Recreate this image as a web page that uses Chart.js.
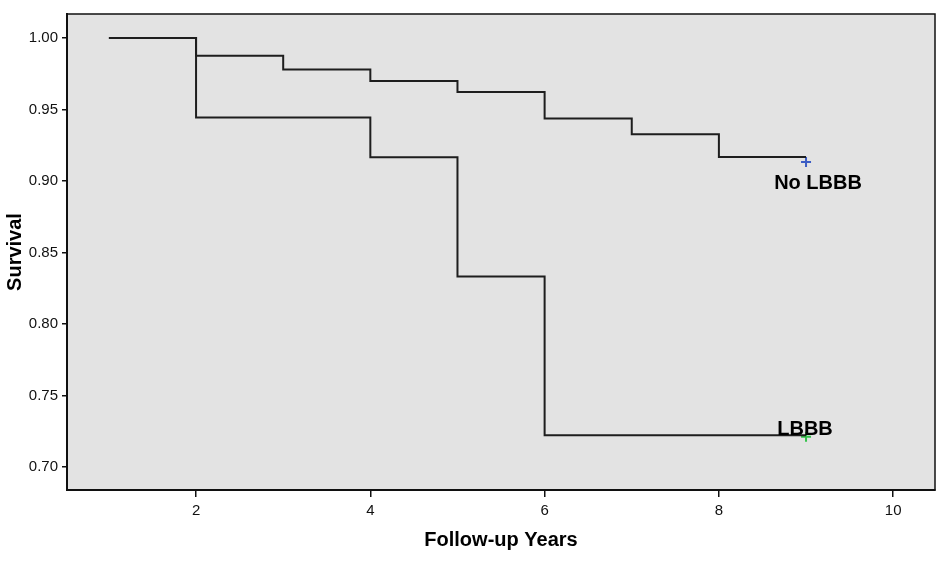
<!DOCTYPE html>
<html>
<head>
<meta charset="utf-8">
<script src="https://cdn.jsdelivr.net/npm/chart.js@4"></script>
<style>
  html, body { margin: 0; padding: 0; background: #fff; }
</style>
</head>
<body>
<canvas id="km" width="945" height="571"></canvas>
<script>
// Kaplan-Meier steps (time in years, survival)
const noLbbbTimes = [1, 2, 3, 4, 5, 6, 7, 8, 9];
const noLbbbSurv = [1.0, 0.9876, 0.978, 0.970, 0.9622, 0.9438, 0.9327, 0.9168, 0.9168];
const lbbbTimes = [1, 2, 4, 5, 6, 9];
const lbbbSurv = [1.0, 0.9444, 0.9167, 0.8333, 0.7222, 0.7222];

// censored marks
const censorNoLbbb = [{ x: 9, y: 0.9133 }];
const censorLbbb = [{ x: 9, y: 0.7212 }];

const xTicks = [2, 4, 6, 8, 10];
const yTicks = [0.70, 0.75, 0.80, 0.85, 0.90, 0.95, 1.00];

const FONT = "'Liberation Sans', Arial, sans-serif";

const toPoints = (xs, ys) => xs.map((x, i) => ({ x: x, y: ys[i] }));

const plotFrame = {
  id: 'plotFrame',
  beforeDraw(chart) {
    const { ctx, chartArea: a } = chart;
    ctx.save();
    ctx.fillStyle = '#e3e3e3';
    ctx.fillRect(a.left, a.top, a.right - a.left, a.bottom - a.top);
    ctx.restore();
  },
  afterDraw(chart) {
    const { ctx, chartArea: a } = chart;
    const xs = chart.scales.x, ys = chart.scales.y;
    ctx.save();
    ctx.strokeStyle = '#111';
    ctx.lineWidth = 1.5;
    ctx.strokeRect(a.left, a.top, a.right - a.left, a.bottom - a.top);

    // group labels next to the curve ends
    ctx.fillStyle = '#000';
    ctx.font = 'bold 20px ' + FONT;
    ctx.textAlign = 'center';
    ctx.textBaseline = 'middle';
    const endX = xs.getPixelForValue(noLbbbTimes[noLbbbTimes.length - 1]);
    ctx.fillText('No LBBB', endX + 12, ys.getPixelForValue(noLbbbSurv[noLbbbSurv.length - 1]) + 26);
    ctx.fillText('LBBB', endX - 1, ys.getPixelForValue(lbbbSurv[lbbbSurv.length - 1]) - 6);
    ctx.restore();
  }
};

new Chart(document.getElementById('km').getContext('2d'), {
  type: 'line',
  data: {
    datasets: [
      {
        label: 'No LBBB',
        data: toPoints(noLbbbTimes, noLbbbSurv),
        stepped: true,
        borderColor: '#1e1e1e',
        borderWidth: 2,
        pointRadius: 0,
        fill: false
      },
      {
        label: 'LBBB',
        data: toPoints(lbbbTimes, lbbbSurv),
        stepped: true,
        borderColor: '#1e1e1e',
        borderWidth: 2,
        pointRadius: 0,
        fill: false
      },
      {
        type: 'scatter',
        label: 'No LBBB-censored',
        data: censorNoLbbb,
        pointStyle: 'cross',
        pointRadius: 5,
        borderColor: '#3b5cc4',
        borderWidth: 2
      },
      {
        type: 'scatter',
        label: 'LBBB-censored',
        data: censorLbbb,
        pointStyle: 'cross',
        pointRadius: 5,
        borderColor: '#33c24a',
        borderWidth: 2
      }
    ]
  },
  options: {
    responsive: false,
    animation: false,
    layout: { padding: { top: 14, right: 10, left: 0, bottom: 0 } },
    plugins: {
      legend: { display: false },
      tooltip: { enabled: false }
    },
    scales: {
      x: {
        type: 'linear',
        min: 0.519,
        max: 10.48,
        afterBuildTicks: (axis) => { axis.ticks = xTicks.map(v => ({ value: v })); },
        afterFit: (axis) => { axis.height = 81; },
        grid: { drawOnChartArea: false, drawTicks: true, tickLength: 7, color: '#111', lineWidth: 1.5 },
        border: { display: true, color: '#111', width: 2 },
        ticks: { color: '#111', padding: 5, font: { family: FONT, size: 15 }, maxRotation: 0 },
        title: {
          display: true,
          text: 'Follow-up Years',
          color: '#000',
          font: { family: FONT, size: 20, weight: 'bold' },
          padding: { top: 0, bottom: 19 }
        }
      },
      y: {
        min: 0.6839,
        max: 1.0168,
        afterBuildTicks: (axis) => { axis.ticks = yTicks.map(v => ({ value: v })); },
        afterFit: (axis) => { axis.width = 67; },
        grid: { drawOnChartArea: false, drawTicks: true, tickLength: 5, color: '#111', lineWidth: 1.5 },
        border: { display: true, color: '#111', width: 2 },
        ticks: {
          color: '#111',
          padding: 4,
          font: { family: FONT, size: 15 },
          callback: (v) => Number(v).toFixed(2)
        },
        title: {
          display: true,
          text: 'Survival',
          color: '#000',
          font: { family: FONT, size: 20, weight: 'bold' },
          padding: { top: 3, bottom: 0 }
        }
      }
    }
  },
  plugins: [plotFrame]
});
</script>
</body>
</html>
